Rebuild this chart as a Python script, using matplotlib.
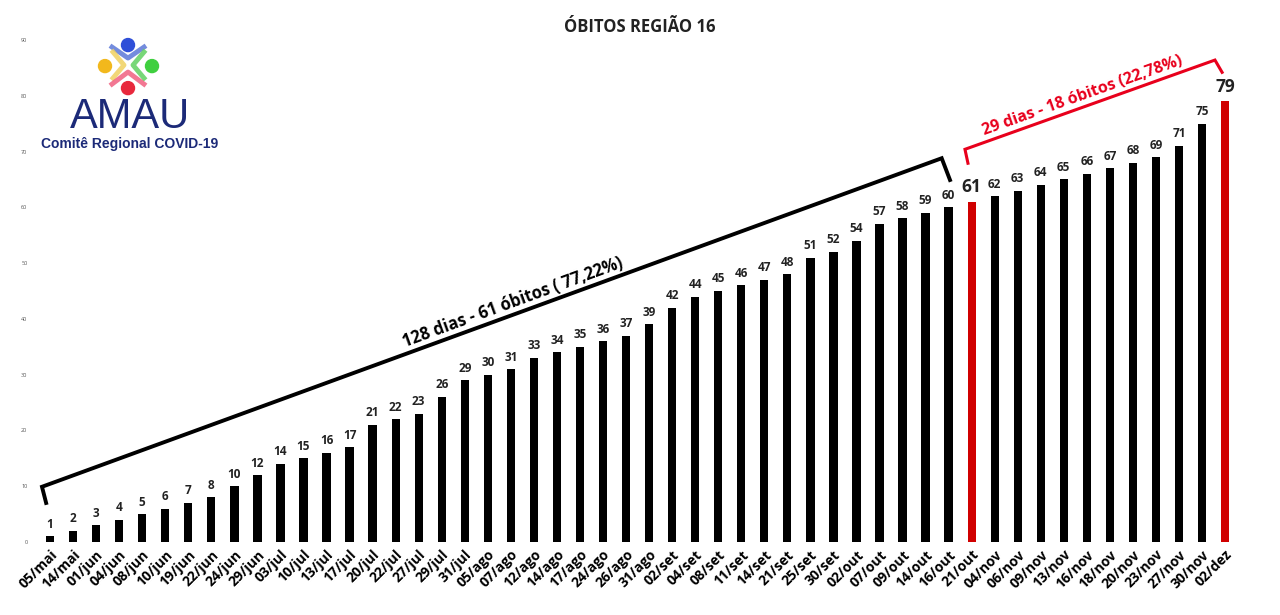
import matplotlib
matplotlib.use("Agg")
import matplotlib.pyplot as plt
from matplotlib.patches import Circle

# dados - óbitos acumulados região 16
datas = ["05/mai", "14/mai", "01/jun", "04/jun", "08/jun", "10/jun", "19/jun", "22/jun",
         "24/jun", "29/jun", "03/jul", "10/jul", "13/jul", "17/jul", "20/jul", "22/jul",
         "27/jul", "29/jul", "31/jul", "05/ago", "07/ago", "12/ago", "14/ago", "17/ago",
         "24/ago", "26/ago", "31/ago", "02/set", "04/set", "08/set", "11/set", "14/set",
         "21/set", "25/set", "30/set", "02/out", "07/out", "09/out", "14/out", "16/out",
         "21/out", "04/nov", "06/nov", "09/nov", "13/nov", "16/nov", "18/nov", "20/nov",
         "23/nov", "27/nov", "30/nov", "02/dez"]
obitos = [1, 2, 3, 4, 5, 6, 7, 8, 10, 12, 14, 15, 16, 17, 21, 22, 23, 26, 29, 30,
          31, 33, 34, 35, 36, 37, 39, 42, 44, 45, 46, 47, 48, 51, 52, 54, 57, 58, 59, 60,
          61, 62, 63, 64, 65, 66, 67, 68, 69, 71, 75, 79]
destaque = ["21/out", "02/dez"]   # barras em vermelho

plt.rcParams['font.family'] = ['Open Sans', 'DejaVu Sans']

fig = plt.figure(figsize=(12.8, 6.15), dpi=100)
ax = fig.add_axes([0.0301, 0.1187, 0.936, 0.8163])

x = list(range(len(datas)))
cores = ['#d00000' if d in destaque else 'black' for d in datas]
ax.bar(x, obitos, width=0.36, color=cores)

for i, v in enumerate(obitos):
    grande = datas[i] in destaque
    ax.annotate(str(v), (i, v), xytext=(0, 4), textcoords='offset points',
                ha='center', va='bottom', fontsize=12.5 if grande else 8.5,
                fontweight='bold', color='#222222')

ax.set_xlim(-0.5, len(datas) - 0.5)
ax.set_ylim(0, 90)
ax.set_yticks(range(0, 91, 10))
ax.tick_params(axis='y', length=0, labelsize=4, labelcolor='#555555', pad=8)
ax.set_xticks(x)
ax.set_xticklabels(datas, rotation=45, ha='right', rotation_mode='anchor',
                   fontsize=10, fontweight='bold')
ax.tick_params(axis='x', length=0, pad=4)
for s in ax.spines.values():
    s.set_visible(False)

# chave preta - primeiro período
ax.plot([-0.17, -0.35, 38.7, 39.06], [7.0, 9.9, 68.8, 64.9], color='black', lw=2.8,
        solid_joinstyle='miter', clip_on=False)
ax.text(20.1, 43.0, "128 dias - 61 óbitos ( 77,22%)", rotation=20.1, ha='center',
        va='center', fontsize=12, fontweight='bold', color='black')

# chave vermelha - segundo período
ax.plot([39.84, 39.71, 50.56, 50.87], [67.9, 70.4, 86.4, 84.2], color='#e8001c', lw=2.2,
        solid_joinstyle='miter', clip_on=False)
ax.text(44.8, 79.9, "29 dias - 18 óbitos (22,78%)", rotation=19.6, ha='center',
        va='center', fontsize=11.5, fontweight='bold', color='#e8001c')

fig.text(0.5, 0.956, "ÓBITOS REGIÃO 16", ha='center', va='center', fontsize=12,
         fontweight='bold', color='#222222')

# logo AMAU (aproximação)
lg = fig.add_axes([0.0, 0.72, 0.2, 0.28])
lg.set_xlim(0, 256)
lg.set_ylim(172, 0)
lg.axis('off')
cx, cy = 128, 66
lg.add_patch(Circle((cx, 45), 6.5, color='#2f4fd8'))
lg.add_patch(Circle((105, cy), 6.5, color='#f2b81c'))
lg.add_patch(Circle((152, cy), 6.5, color='#3fcf3f'))
lg.add_patch(Circle((cx, 88), 6.5, color='#e8283c'))
lg.plot([112, cx, 144], [47, 58, 47], color='#5c78d8', lw=3.5, alpha=0.85)
lg.plot([113, 124, 113], [52, 65, 78], color='#f0d060', lw=3.5, alpha=0.85)
lg.plot([144, 133, 144], [52, 65, 78], color='#60d060', lw=3.5, alpha=0.85)
lg.plot([112, cx, 144], [84, 72, 84], color='#f06080', lw=3.5, alpha=0.85)
lg.text(130, 117, "AMAU", ha='center', va='center', fontsize=30,
        family='Liberation Sans', color='#1c2a78')
lg.text(130, 144, "Comitê Regional COVID-19", ha='center', va='center', fontsize=10,
        family='Liberation Sans', fontweight='bold', color='#1c2a78')

fig.savefig("out.png", dpi=100, facecolor='white')
